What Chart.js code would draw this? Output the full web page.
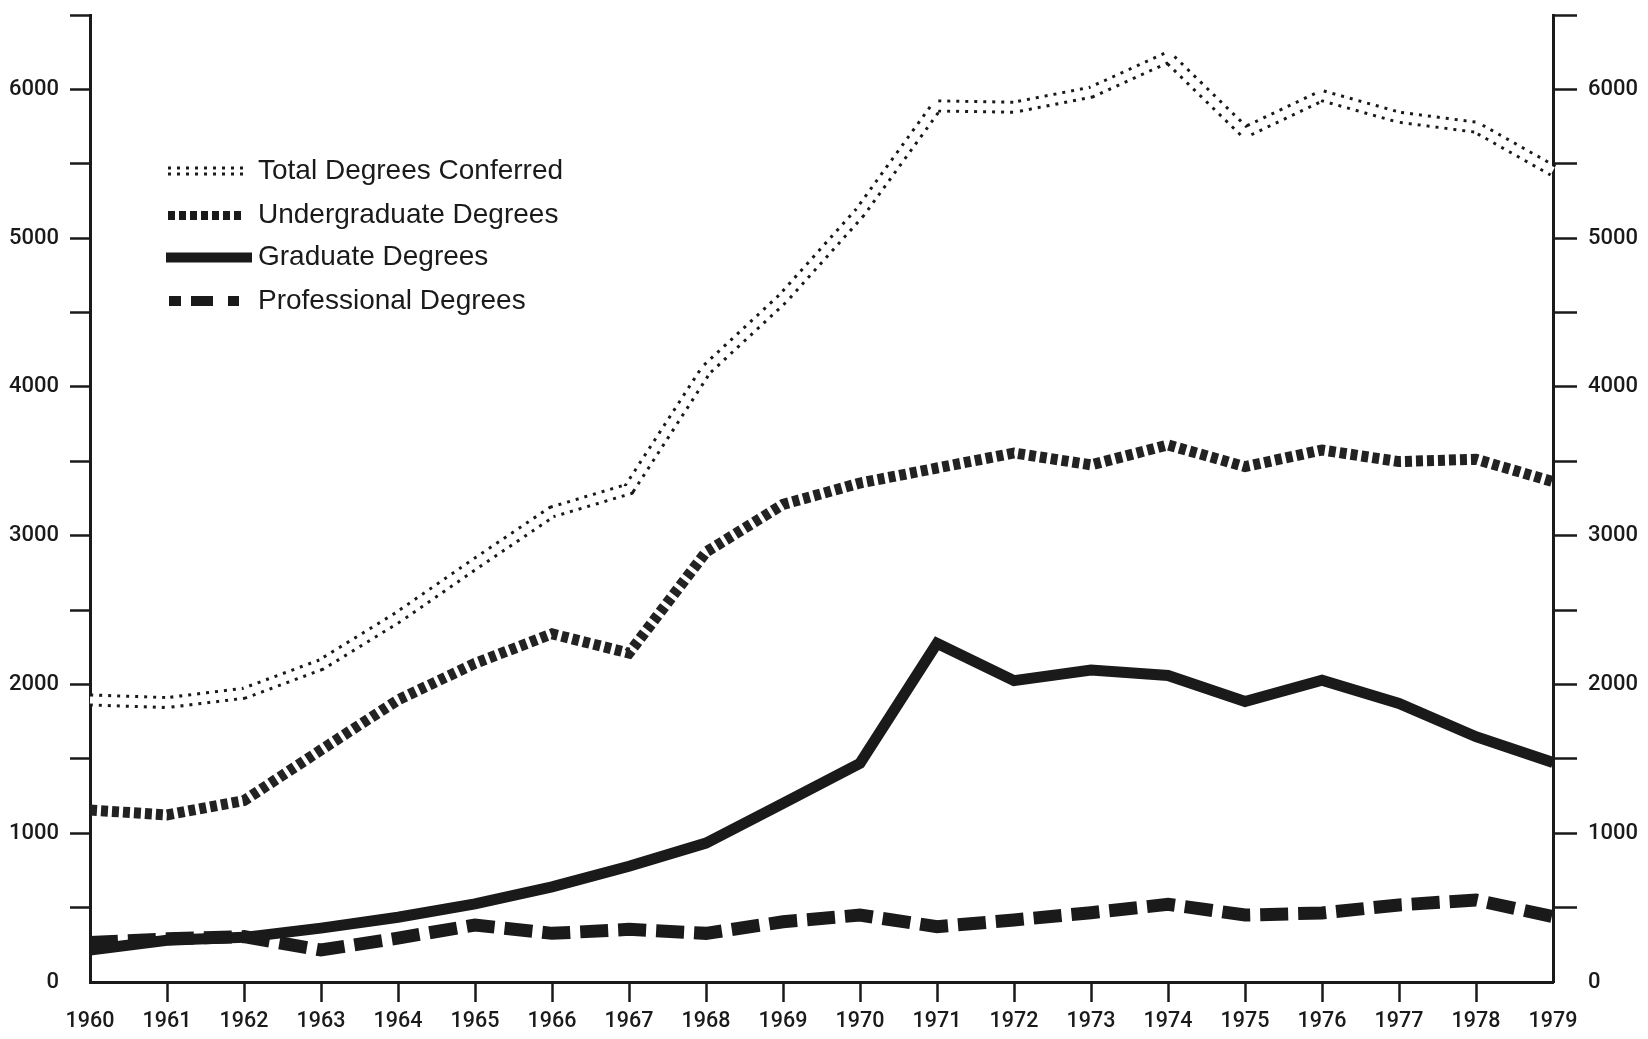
<!DOCTYPE html>
<html>
<head>
<meta charset="utf-8">
<script src="https://cdn.jsdelivr.net/npm/chart.js@4/dist/chart.umd.min.js"></script>
<style>
  html, body { margin: 0; padding: 0; background: #ffffff; }
  #wrap { position: relative; width: 1648px; height: 1039px; }
  canvas { display: block; }
</style>
</head>
<body>
<div id="wrap"><canvas id="c" width="1648" height="1039"></canvas></div>
<script>
// ---- data ----
const years = ['1960','1961','1962','1963','1964','1965','1966','1967','1968','1969',
               '1970','1971','1972','1973','1974','1975','1976','1977','1978','1979'];
const totalDegrees        = [1896,1878,1941,2133,2452,2810,3160,3314,4114,4596,5174,5889,5880,5981,6216,5712,5958,5813,5746,5454];
const undergraduateDegrees= [1156,1123,1219,1560,1896,2142,2340,2211,2890,3210,3354,3455,3556,3476,3610,3464,3576,3498,3514,3363];
const graduateDegrees     = [215,280,300,362,435,525,640,778,934,1201,1470,2277,2026,2097,2060,1885,2028,1872,1649,1475];
const professionalDegrees = [265,290,305,215,295,383,327,354,327,405,450,372,417,466,522,450,464,518,551,439];
const seriesNames = ['Total Degrees Conferred','Undergraduate Degrees','Graduate Degrees','Professional Degrees'];
const yMin = 0, yMax = 6500, yStep = 500, yLabelEvery = 1000;

const INK = '#1a1a1a';
const FONT = '"Liberation Sans", Arial, Helvetica, sans-serif';
const TICKFONT = 'Roboto, "Liberation Sans", Arial, sans-serif';

// custom legend drawn inside the plot, like the original
const legendPlugin = {
  id: 'insideLegend',
  afterDraw(chart) {
    const ctx = chart.ctx;
    ctx.save();
    const x0 = 168, tx = 258;
    const rows = [171, 215.5, 257.5, 301];
    // total: double dotted
    ctx.strokeStyle = INK; ctx.lineCap = 'butt';
    ctx.setLineDash([3, 6]); ctx.lineWidth = 9;
    ctx.beginPath(); ctx.moveTo(x0, rows[0]); ctx.lineTo(x0 + 81, rows[0]); ctx.stroke();
    ctx.setLineDash([]); ctx.strokeStyle = '#fff'; ctx.lineWidth = 3;
    ctx.beginPath(); ctx.moveTo(x0 - 2, rows[0]); ctx.lineTo(x0 + 84, rows[0]); ctx.stroke();
    // undergrad: squares
    ctx.strokeStyle = INK; ctx.setLineDash([7, 4]); ctx.lineWidth = 9;
    ctx.beginPath(); ctx.moveTo(x0, rows[1]); ctx.lineTo(x0 + 77, rows[1]); ctx.stroke();
    // graduate: solid
    ctx.setLineDash([]); ctx.lineWidth = 10;
    ctx.beginPath(); ctx.moveTo(166, rows[2]); ctx.lineTo(252, rows[2]); ctx.stroke();
    // professional: short-long-short
    ctx.setLineDash([12, 10, 22, 15, 11, 200]); ctx.lineWidth = 10;
    ctx.beginPath(); ctx.moveTo(169, rows[3]); ctx.lineTo(241, rows[3]); ctx.stroke();
    ctx.setLineDash([]);
    // text
    ctx.fillStyle = INK;
    ctx.font = '28px ' + FONT;
    ctx.textBaseline = 'middle';
    ctx.textAlign = 'left';
    seriesNames.forEach((n, i) => ctx.fillText(n, tx, rows[i]));
    ctx.restore();
  }
};

const tickCol = (ctx) => (ctx.tick && ctx.tick.value === 0) ? 'rgba(0,0,0,0)' : INK;
const xTickCol = (ctx) => (ctx.index === 0 || ctx.index === years.length - 1) ? 'rgba(0,0,0,0)' : INK;
const yLabel = (v) => (v % yLabelEvery === 0 ? String(v) : '');
const fitY = (w) => (s) => { s.width = w; s.paddingTop = 0; s.paddingBottom = 0; };

new Chart(document.getElementById('c'), {
  type: 'line',
  data: {
    labels: years,
    datasets: [
      { label: 'Total (center gap)', data: totalDegrees, borderColor: '#ffffff', borderWidth: 7,
        pointRadius: 0, fill: false, tension: 0, order: 0 },
      { label: seriesNames[0], data: totalDegrees, borderColor: INK, borderWidth: 13,
        borderDash: [3, 6], borderCapStyle: 'butt', pointRadius: 0, fill: false, tension: 0, order: 1 },
      { label: seriesNames[1], data: undergraduateDegrees, borderColor: '#222222', borderWidth: 11,
        borderDash: [7, 4], borderCapStyle: 'butt', pointRadius: 0, fill: false, tension: 0, order: 2 },
      { label: seriesNames[2], data: graduateDegrees, borderColor: INK, borderWidth: 11,
        pointRadius: 0, fill: false, tension: 0, order: 3 },
      { label: seriesNames[3], data: professionalDegrees, borderColor: INK, borderWidth: 13,
        borderDash: [28, 10], borderCapStyle: 'butt', pointRadius: 0, fill: false, tension: 0, order: 2.5 }
    ]
  },
  options: {
    responsive: false,
    animation: false,
    events: [],
    layout: { padding: { top: 15, left: 0, right: 0, bottom: 0 } },
    plugins: { legend: { display: false }, tooltip: { enabled: false }, title: { display: false } },
    scales: {
      x: {
        type: 'category',
        offset: false,
        position: 'bottom',
        afterFit: (s) => { s.height = 57; s.paddingLeft = 0; s.paddingRight = 0; },
        border: { display: true, color: INK, width: 3 },
        grid: { drawOnChartArea: false, drawTicks: true, tickLength: 20, tickWidth: 2.5, color: xTickCol, tickColor: xTickCol },
        ticks: { color: INK, font: { family: TICKFONT, size: 21.5, weight: '500' }, padding: 7, maxRotation: 0, autoSkip: false }
      },
      y: {
        position: 'left',
        min: yMin, max: yMax,
        afterFit: fitY(90),
        border: { display: true, color: INK, width: 3 },
        grid: { drawOnChartArea: false, drawTicks: true, tickLength: 20, tickWidth: 2.5, color: tickCol, tickColor: tickCol },
        ticks: { stepSize: yStep, color: INK, font: { family: TICKFONT, size: 22, weight: '500' }, padding: 11, callback: yLabel }
      },
      y2: {
        position: 'right',
        min: yMin, max: yMax,
        afterFit: fitY(95),
        border: { display: true, color: INK, width: 3 },
        grid: { drawOnChartArea: false, drawTicks: true, tickLength: 24, tickWidth: 2.5, color: tickCol, tickColor: tickCol },
        ticks: { stepSize: yStep, color: INK, font: { family: TICKFONT, size: 22, weight: '500' }, padding: 11, callback: yLabel }
      }
    }
  },
  plugins: [legendPlugin]
});
</script>
</body>
</html>
